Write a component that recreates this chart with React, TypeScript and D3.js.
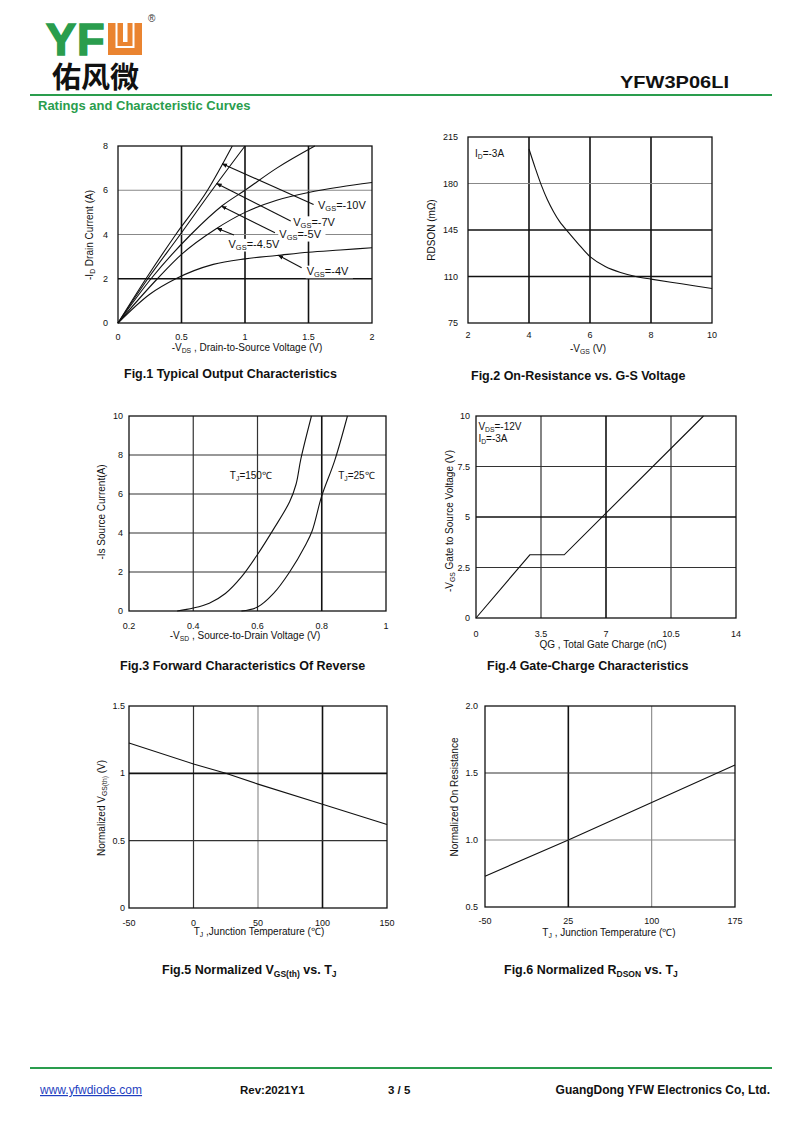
import * as d3 from "d3";
import React from "react";

type Pt = [number, number];
type Seg = { t: string; sub?: boolean };
type Lvl = "k" | "d" | "g";

const FONT = "'Liberation Sans', Arial, Helvetica, sans-serif";
const GREEN = "#2a9d4d";
const ORANGE = "#ea8430";

// ---------- Fig.1 typical output characteristics (-VDS in V, -ID in A)
const fig1XTicks = [0, 0.5, 1, 1.5, 2];
const fig1YTicks = [0, 2, 4, 6, 8];
const fig1Vgs = ["-10V", "-7V", "-5V", "-4.5V", "-4V"];
const fig1Vgs10: Pt[] = [[0, 0], [0.22, 2], [0.455, 4], [0.705, 6], [0.9, 8]];
const fig1Vgs7: Pt[] = [[0, 0], [0.235, 2], [0.49, 4], [0.74, 6], [1.0, 8]];
const fig1Vgs5: Pt[] = [[0, 0], [0.26, 2], [0.574, 4], [0.82, 5.3], [1.0, 6.0], [1.25, 7.0], [1.55, 8]];
const fig1Vgs45: Pt[] = [[0, 0], [0.31, 2], [0.5, 3.1], [0.77, 4.25], [1.0, 5.0], [1.25, 5.55], [1.5, 5.9], [1.75, 6.15], [2, 6.35]];
const fig1Vgs4: Pt[] = [[0, 0], [0.25, 1.3], [0.455, 2], [0.75, 2.65], [1.0, 2.9], [1.25, 3.05], [1.5, 3.2], [1.75, 3.3], [2, 3.4]];
// arrow heads sit on the curves, tails point at the labels
const fig1ArrowHead: Pt[] = [[0.82, 7.2], [0.777, 6.3], [0.816, 5.28], [0.78, 4.28], [1.262, 3.06]];
const fig1ArrowTail: Pt[] = [[1.54, 5.36], [1.36, 4.61], [1.236, 4.08], [0.913, 3.98], [1.446, 2.5]];
const fig1LabelAt: Pt[] = [[1.575, 5.15], [1.38, 4.4], [1.27, 3.83], [0.87, 3.38], [1.486, 2.17]];

// ---------- Fig.2 on-resistance vs gate voltage (-VGS in V, RDSON in mOhm)
const fig2XTicks = [2, 4, 6, 8, 10];
const fig2YTicks = [75, 110, 145, 180, 215];
const fig2Rds: Pt[] = [[4, 206], [4.2, 192], [4.4, 179], [4.6, 168], [4.8, 159], [5, 151.5], [5.3, 143], [5.6, 135], [6, 125], [6.5, 117.5], [7, 113], [7.5, 110], [8, 108], [9, 104.5], [10, 101]];

// ---------- Fig.3 body diode forward (-VSD in V, -IS in A)
const fig3XTicks = [0.2, 0.4, 0.6, 0.8, 1];
const fig3YTicks = [0, 2, 4, 6, 8, 10];
const fig3Tj150: Pt[] = [[0.35, 0], [0.4, 0.15], [0.45, 0.4], [0.5, 0.9], [0.55, 1.75], [0.6, 2.9], [0.65, 4.2], [0.7, 5.6], [0.72, 6.5], [0.735, 7.8], [0.768, 10]];
const fig3Tj25: Pt[] = [[0.55, 0], [0.6, 0.2], [0.65, 0.9], [0.7, 2.0], [0.75, 3.4], [0.77, 4.1], [0.8, 5.9], [0.84, 7.7], [0.88, 10]];

// ---------- Fig.4 gate charge (QG in nC, -VGS in V)
const fig4XTicks = [0, 3.5, 7, 10.5, 14];
const fig4YTicks = [0, 2.5, 5, 7.5, 10];
const fig4Vgs: Pt[] = [[0, 0], [2.9, 3.13], [4.75, 3.13], [12.25, 10]];

// ---------- Fig.5 normalized VGS(th) vs TJ
const fig5XTicks = [-50, 0, 50, 100, 150];
const fig5YTicks = [0, 0.5, 1, 1.5];
const fig5Vth: Pt[] = [[-50, 1.225], [0, 1.07], [25, 1.0], [50, 0.92], [100, 0.77], [150, 0.62]];

// ---------- Fig.6 normalized RDSON vs TJ
const fig6XTicks = [-50, 25, 100, 175];
const fig6YTicks = [0.5, 1.0, 1.5, 2.0];
const fig6Rds: Pt[] = [[-50, 0.73], [25, 1.0], [100, 1.28], [175, 1.56]];

const gridStyle: Record<Lvl, { c: string; w: number }> = {
  k: { c: "#111", w: 1.6 },
  d: { c: "#333", w: 1.2 },
  g: { c: "#888", w: 1.1 },
};

function Rich({ segs, size }: { segs: Seg[]; size: number }) {
  return (
    <>
      {segs.map((s, i) => {
        const prevSub = i > 0 && segs[i - 1].sub;
        if (s.sub)
          return (
            <tspan key={i} fontSize={size * 0.68} dy={prevSub ? 0 : size * 0.2}>
              {s.t}
            </tspan>
          );
        return (
          <tspan key={i} dy={prevSub ? -size * 0.2 : 0}>
            {s.t}
          </tspan>
        );
      })}
    </>
  );
}

interface Label {
  at: Pt;
  segs: Seg[];
  size: number;
  bg?: number;
}

interface PanelProps {
  box: { x0: number; x1: number; y0: number; y1: number };
  xDomain: [number, number];
  yDomain: [number, number];
  xTicks: number[];
  yTicks: number[];
  xFmt?: (v: number) => string;
  yFmt?: (v: number) => string;
  xGrid: Lvl[];
  yGrid: Lvl[];
  series: Pt[][];
  curve?: d3.CurveFactory;
  labels?: Label[];
  arrows?: { head: Pt; tail: Pt }[];
  xTickBase: number;
  yTickRight: number;
  xTitle: Seg[];
  xTitleX: number;
  xTitleBase: number;
  yTitle: Seg[];
  yTitleX: number;
  yTitleCy: number;
}

function Panel(p: PanelProps) {
  const { box } = p;
  const x = d3.scaleLinear().domain(p.xDomain).range([box.x0, box.x1]);
  const y = d3.scaleLinear().domain(p.yDomain).range([box.y1, box.y0]);
  const line = d3
    .line<Pt>()
    .x((d) => x(d[0]))
    .y((d) => y(d[1]))
    .curve(p.curve ?? d3.curveCatmullRom.alpha(0.5));
  const xInner = p.xTicks.slice(1, -1);
  const yInner = p.yTicks.slice(1, -1);
  const xf = p.xFmt ?? ((v: number) => String(v));
  const yf = p.yFmt ?? ((v: number) => String(v));

  return (
    <g fontFamily={FONT}>
      {/* grid */}
      {xInner.map((v, i) => (
        <line
          key={`gx${i}`}
          x1={x(v)}
          x2={x(v)}
          y1={box.y0}
          y2={box.y1}
          stroke={gridStyle[p.xGrid[i]].c}
          strokeWidth={gridStyle[p.xGrid[i]].w}
        />
      ))}
      {yInner.map((v, i) => (
        <line
          key={`gy${i}`}
          x1={box.x0}
          x2={box.x1}
          y1={y(v)}
          y2={y(v)}
          stroke={gridStyle[p.yGrid[i]].c}
          strokeWidth={gridStyle[p.yGrid[i]].w}
        />
      ))}
      <rect
        x={box.x0}
        y={box.y0}
        width={box.x1 - box.x0}
        height={box.y1 - box.y0}
        fill="none"
        stroke="#111"
        strokeWidth={1.3}
      />

      {/* curves */}
      {p.series.map((s, i) => (
        <path key={`s${i}`} d={line(s) ?? ""} fill="none" stroke="#111" strokeWidth={1.1} />
      ))}

      {/* labels */}
      {(p.labels ?? []).map((l, i) => (
        <g key={`l${i}`}>
          {l.bg ? (
            <rect
              x={x(l.at[0]) - 1}
              y={y(l.at[1]) - l.size * 0.85}
              width={l.bg}
              height={l.size * 1.15}
              fill="#fff"
            />
          ) : null}
          <text x={x(l.at[0])} y={y(l.at[1])} fontSize={l.size} fill="#111">
            <Rich segs={l.segs} size={l.size} />
          </text>
        </g>
      ))}
      {(p.arrows ?? []).map((a, i) => (
        <line
          key={`a${i}`}
          x1={x(a.tail[0])}
          y1={y(a.tail[1])}
          x2={x(a.head[0])}
          y2={y(a.head[1])}
          stroke="#111"
          strokeWidth={1.1}
          markerEnd="url(#arrowHead)"
        />
      ))}

      {/* ticks */}
      {p.xTicks.map((v, i) => (
        <text key={`tx${i}`} x={x(v)} y={p.xTickBase} fontSize={9} textAnchor="middle" fill="#111">
          {xf(v)}
        </text>
      ))}
      {p.yTicks.map((v, i) => (
        <text
          key={`ty${i}`}
          x={p.yTickRight}
          y={y(v)}
          dy="0.35em"
          fontSize={9}
          textAnchor="end"
          fill="#111"
        >
          {yf(v)}
        </text>
      ))}

      {/* axis titles */}
      <text x={p.xTitleX} y={p.xTitleBase} fontSize={10} textAnchor="middle" fill="#111">
        <Rich segs={p.xTitle} size={10} />
      </text>
      <text
        transform={`translate(${p.yTitleX},${p.yTitleCy}) rotate(-90)`}
        dy="0.35em"
        fontSize={10}
        textAnchor="middle"
        fill="#111"
      >
        <Rich segs={p.yTitle} size={10} />
      </text>
    </g>
  );
}

function Caption({ x, y, segs }: { x: number; y: number; segs: Seg[] }) {
  return (
    <text x={x} y={y} fontFamily={FONT} fontWeight="bold" fontSize={12.5} fill="#111">
      <Rich segs={segs} size={12.5} />
    </text>
  );
}

export default function App() {
  const fig1Series = [fig1Vgs10, fig1Vgs7, fig1Vgs5, fig1Vgs45, fig1Vgs4];
  const fig1Labels: Label[] = fig1Vgs.map((v, i) => ({
    at: fig1LabelAt[i],
    segs: [{ t: "V" }, { t: "GS", sub: true }, { t: "=" + v }],
    size: 11,
    bg: 22 + (v.length + 1) * 6.3,
  }));
  const fig1Arrows = fig1ArrowHead.map((h, i) => ({ head: h, tail: fig1ArrowTail[i] }));

  return (
    <svg
      width={800}
      height={1130}
      viewBox="0 0 800 1130"
      style={{ position: "absolute", left: 0, top: 0, background: "#fff" }}
    >
      <defs>
        <marker
          id="arrowHead"
          viewBox="0 0 10 10"
          refX={9}
          refY={5}
          markerWidth={5}
          markerHeight={5}
          orient="auto"
          markerUnits="strokeWidth"
        >
          <path d="M0,1 L10,5 L0,9 z" fill="#111" />
        </marker>
      </defs>
      <rect width={800} height={1130} fill="#fff" />

      {/* header */}
      <text
        x={46}
        y={55}
        fontFamily={FONT}
        fontWeight="bold"
        fontSize={45}
        fill={GREEN}
        stroke={GREEN}
        strokeWidth={1.6}
        letterSpacing={1}
      >
        YF
      </text>
      <rect x={108} y={23} width={34} height={32} fill={ORANGE} />
      <path d="M116.5,23 V47 H133.5 V23" fill="none" stroke="#fff" strokeWidth={2} />
      <rect x={123} y={23} width={4.5} height={19} fill="#fff" />
      <text x={148} y={22} fontFamily={FONT} fontSize={10} fill="#333">
        ®
      </text>
      <text
        x={52}
        y={88}
        fontFamily="'Noto Sans CJK SC', sans-serif"
        fontWeight="bold"
        fontSize={29}
        fill="#111"
      >
        佑风微
      </text>
      <text
        x={620}
        y={88}
        fontFamily={FONT}
        fontWeight="bold"
        fontSize={17}
        fill="#111"
        textLength={109}
        lengthAdjust="spacingAndGlyphs"
      >
        YFW3P06LI
      </text>
      <line x1={30} x2={772} y1={95} y2={95} stroke={GREEN} strokeWidth={2.2} />
      <text x={38} y={110} fontFamily={FONT} fontWeight="bold" fontSize={13} fill={GREEN}>
        Ratings and Characteristic Curves
      </text>

      {/* Fig.1 */}
      <Panel
        box={{ x0: 118, x1: 372, y0: 146, y1: 323 }}
        xDomain={[0, 2]}
        yDomain={[0, 8]}
        xTicks={fig1XTicks}
        yTicks={fig1YTicks}
        xGrid={["k", "k", "k"]}
        yGrid={["k", "g", "g"]}
        series={fig1Series}
        curve={d3.curveMonotoneX}
        labels={fig1Labels}
        arrows={fig1Arrows}
        xTickBase={340}
        yTickRight={108}
        xTitle={[{ t: "-V" }, { t: "DS", sub: true }, { t: " , Drain-to-Source Voltage (V)" }]}
        xTitleX={247}
        xTitleBase={351}
        yTitle={[{ t: "-I" }, { t: "D", sub: true }, { t: " Drain Current (A)" }]}
        yTitleX={93}
        yTitleCy={235}
      />
      <Caption x={124} y={378} segs={[{ t: "Fig.1 Typical Output Characteristics" }]} />

      {/* Fig.2 */}
      <Panel
        box={{ x0: 468, x1: 712, y0: 137, y1: 323 }}
        xDomain={[2, 10]}
        yDomain={[75, 215]}
        xTicks={fig2XTicks}
        yTicks={fig2YTicks}
        xGrid={["k", "k", "k"]}
        yGrid={["k", "k", "g"]}
        series={[fig2Rds]}
        labels={[
          { at: [2.23, 200], segs: [{ t: "I" }, { t: "D", sub: true }, { t: "=-3A" }], size: 10 },
        ]}
        xTickBase={338}
        yTickRight={458}
        xTitle={[{ t: "-V" }, { t: "GS", sub: true }, { t: " (V)" }]}
        xTitleX={588}
        xTitleBase={352}
        yTitle={[{ t: "RDSON (mΩ)" }]}
        yTitleX={435}
        yTitleCy={230}
      />
      <Caption x={471} y={380} segs={[{ t: "Fig.2 On-Resistance vs. G-S Voltage" }]} />

      {/* Fig.3 */}
      <Panel
        box={{ x0: 129, x1: 386, y0: 416, y1: 611 }}
        xDomain={[0.2, 1]}
        yDomain={[0, 10]}
        xTicks={fig3XTicks}
        yTicks={fig3YTicks}
        xGrid={["d", "d", "k"]}
        yGrid={["d", "d", "d", "d"]}
        series={[fig3Tj150, fig3Tj25]}
        labels={[
          { at: [0.514, 6.75], segs: [{ t: "T" }, { t: "J", sub: true }, { t: "=150℃" }], size: 10 },
          { at: [0.851, 6.75], segs: [{ t: "T" }, { t: "J", sub: true }, { t: "=25℃" }], size: 10 },
        ]}
        xTickBase={629}
        yTickRight={123}
        xTitle={[{ t: "-V" }, { t: "SD", sub: true }, { t: " , Source-to-Drain Voltage (V)" }]}
        xTitleX={245}
        xTitleBase={639}
        yTitle={[{ t: "-Is Source Current(A)" }]}
        yTitleX={105}
        yTitleCy={512}
      />
      <Caption x={120} y={670} segs={[{ t: "Fig.3 Forward Characteristics Of Reverse" }]} />

      {/* Fig.4 */}
      <Panel
        box={{ x0: 476, x1: 736, y0: 416, y1: 618 }}
        xDomain={[0, 14]}
        yDomain={[0, 10]}
        xTicks={fig4XTicks}
        yTicks={fig4YTicks}
        xGrid={["d", "k", "d"]}
        yGrid={["d", "k", "d"]}
        series={[fig4Vgs]}
        curve={d3.curveLinear}
        labels={[
          { at: [0.13, 9.3], segs: [{ t: "V" }, { t: "DS", sub: true }, { t: "=-12V" }], size: 10 },
          { at: [0.13, 8.7], segs: [{ t: "I" }, { t: "D", sub: true }, { t: "=-3A" }], size: 10 },
        ]}
        xTickBase={637}
        yTickRight={470}
        xTitle={[{ t: "QG , Total Gate Charge (nC)" }]}
        xTitleX={603}
        xTitleBase={648}
        yTitle={[{ t: "-V" }, { t: "GS", sub: true }, { t: " Gate to Source Voltage (V)" }]}
        yTitleX={453}
        yTitleCy={521}
      />
      <Caption x={487} y={670} segs={[{ t: "Fig.4 Gate-Charge Characteristics" }]} />

      {/* Fig.5 */}
      <Panel
        box={{ x0: 129, x1: 387, y0: 706, y1: 908 }}
        xDomain={[-50, 150]}
        yDomain={[0, 1.5]}
        xTicks={fig5XTicks}
        yTicks={fig5YTicks}
        xGrid={["d", "g", "k"]}
        yGrid={["d", "k"]}
        series={[fig5Vth]}
        curve={d3.curveLinear}
        xTickBase={926}
        yTickRight={125}
        xTitle={[{ t: "T" }, { t: "J", sub: true }, { t: " ,Junction Temperature (℃)" }]}
        xTitleX={259}
        xTitleBase={935}
        yTitle={[{ t: "Normalized V" }, { t: "GS(th)", sub: true }, { t: " (V)" }]}
        yTitleX={105}
        yTitleCy={808}
      />
      <Caption
        x={162}
        y={974}
        segs={[{ t: "Fig.5 Normalized V" }, { t: "GS(th)", sub: true }, { t: " vs. T" }, { t: "J", sub: true }]}
      />

      {/* Fig.6 */}
      <Panel
        box={{ x0: 485, x1: 735, y0: 706, y1: 907 }}
        xDomain={[-50, 175]}
        yDomain={[0.5, 2.0]}
        xTicks={fig6XTicks}
        yTicks={fig6YTicks}
        yFmt={d3.format(".1f")}
        xGrid={["k", "g"]}
        yGrid={["g", "d"]}
        series={[fig6Rds]}
        curve={d3.curveLinear}
        xTickBase={924}
        yTickRight={478}
        xTitle={[{ t: "T" }, { t: "J", sub: true }, { t: " , Junction Temperature (℃)" }]}
        xTitleX={609}
        xTitleBase={936}
        yTitle={[{ t: "Normalized On Resistance" }]}
        yTitleX={458}
        yTitleCy={797}
      />
      <Caption
        x={504}
        y={974}
        segs={[{ t: "Fig.6 Normalized R" }, { t: "DSON", sub: true }, { t: " vs. T" }, { t: "J", sub: true }]}
      />

      {/* footer */}
      <line x1={30} x2={772} y1={1068} y2={1068} stroke={GREEN} strokeWidth={2.2} />
      <text
        x={40}
        y={1094}
        fontFamily={FONT}
        fontSize={12}
        fill="#1f3fbf"
        style={{ textDecoration: "underline" }}
      >
        www.yfwdiode.com
      </text>
      <text x={240} y={1094} fontFamily={FONT} fontWeight="bold" fontSize={11.5} fill="#111">
        Rev:2021Y1
      </text>
      <text x={388} y={1094} fontFamily={FONT} fontWeight="bold" fontSize={11.5} fill="#111">
        3 / 5
      </text>
      <text x={770} y={1094} fontFamily={FONT} fontWeight="bold" fontSize={12} fill="#111" textAnchor="end">
        GuangDong YFW Electronics Co, Ltd.
      </text>
    </svg>
  );
}
